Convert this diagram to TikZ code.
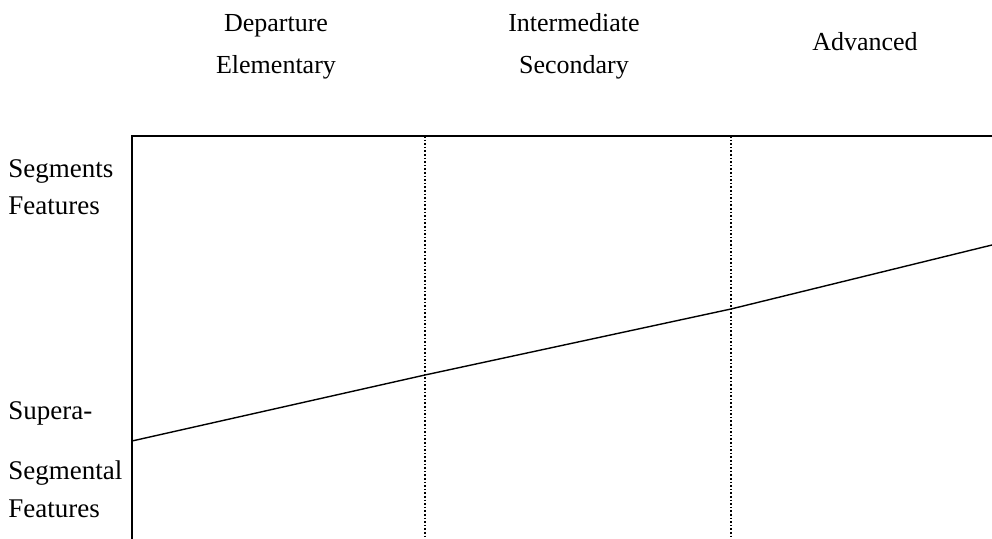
\documentclass[tikz,border=0pt]{standalone}
\usepackage{fontspec}
\setmainfont{Liberation Serif}
\begin{document}
\begin{tikzpicture}[x=0.5pt,y=-0.5pt,
  lbl/.style={inner sep=0pt,font=\fontsize{13}{15}\selectfont},
  side/.style={inner sep=0pt,font=\fontsize{13.5}{15}\selectfont},
  axis/.style={line width=0.7pt,black},
  sep/.style={line width=0.65pt,dash pattern=on 0.8pt off 1.0pt},
  trend/.style={line width=0.7pt}]
\useasboundingbox (0,0) rectangle (992,539);
% frame
\coordinate (tl) at (132,136);
\coordinate (tr) at (992,136);
\coordinate (bl) at (132,539);
\draw[axis] (tr) -- (tl) -- (bl);
% dotted separators
\coordinate (d1t) at (425,136);
\coordinate (d1b) at (425,539);
\coordinate (d2t) at (731,136);
\coordinate (d2b) at (731,539);
\draw[sep] (d1t) -- (d1b);
\draw[sep] (d2t) -- (d2b);
% trend line
\coordinate (p0) at (132,441);
\coordinate (p1) at (425,375);
\coordinate (p2) at (731,309);
\coordinate (p3) at (992,245);
\draw[trend] (p0) -- (p1) -- (p2) -- (p3);
% top labels
\node[lbl,anchor=base] (dep) at (276,32) {Departure};
\node[lbl,anchor=base] (ele) at (276,74) {Elementary};
\node[lbl,anchor=base] (int) at (574,32) {Intermediate};
\node[lbl,anchor=base] (sec) at (574,74) {Secondary};
\node[lbl,anchor=base] (adv) at (865,51) {Advanced};
% left labels
\node[side,anchor=base west] (seg) at (8,178) {Segments};
\node[side,anchor=base west] (fe1) at (8,215) {Features};
\node[side,anchor=base west] (sup) at (8,420) {Supera-};
\node[side,anchor=base west] (sgm) at (8,480) {Segmental};
\node[side,anchor=base west] (fe2) at (8,518) {Features};
\end{tikzpicture}
\end{document}
